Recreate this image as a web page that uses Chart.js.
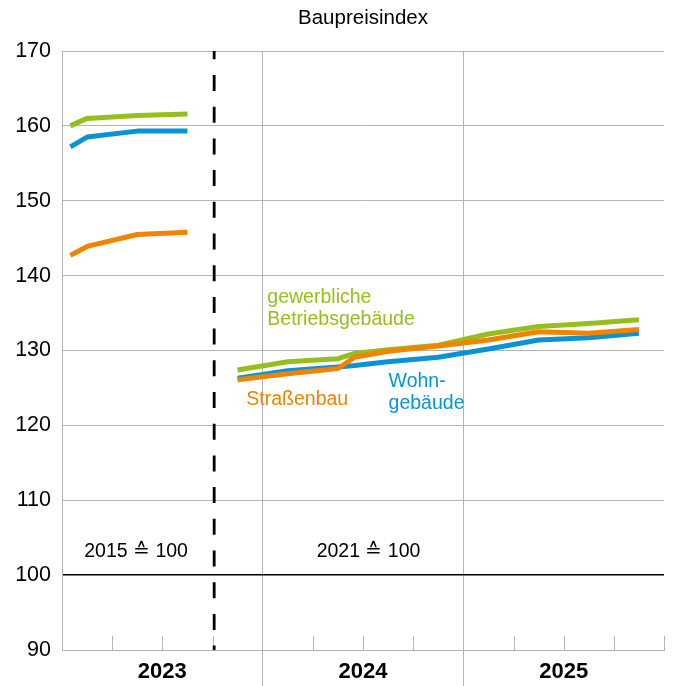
<!DOCTYPE html>
<html>
<head>
<meta charset="utf-8">
<script src="https://cdn.jsdelivr.net/npm/chart.js@4"></script>
<style>
  body { margin: 0; background: #fff; }
  #wrap { width: 673px; height: 686px; }
</style>
</head>
<body>
<div id="wrap"><canvas id="chart"></canvas></div>
<script>
// months counted from Jan 2023 (0) to Dec 2025 (36)
const years = ['2023', '2024', '2025'];
const yTicks = [90, 100, 110, 120, 130, 140, 150, 160, 170];

// 2015 = 100
const months2015 = [0.5, 1.5, 4.5, 7.5];
const gewerbe2015 = [160.0, 161.0, 161.4, 161.6];
const wohn2015 = [157.2, 158.5, 159.3, 159.3];
const strasse2015 = [142.7, 143.9, 145.5, 145.8];

// 2021 = 100
const months2021 = [10.5, 13.5, 16.5, 17.5, 19.5, 22.5, 25.5, 28.5, 31.5, 34.5];
const gewerbe2021 = [127.4, 128.5, 128.9, 129.6, 130.1, 130.7, 132.2, 133.2, 133.6, 134.1];
const wohn2021 = [126.3, 127.3, 127.8, 128.0, 128.5, 129.1, 130.2, 131.4, 131.7, 132.3];
const strasse2021 = [126.1, 126.9, 127.6, 129.1, 129.9, 130.6, 131.4, 132.5, 132.3, 132.8];

// Basiswechsel
const baseChange = 9.1;

const GREEN = '#96bf1d', BLUE = '#0a93d4', ORANGE = '#f08300';
const GRID = '#b4b4b4';
const FONT = '"Liberation Sans", Arial, sans-serif';

const pts = (xs, ys) => xs.map((x, i) => ({ x: x, y: ys[i] }));

function series(label, xs, ys, color, order) {
  return { label, data: pts(xs, ys), borderColor: color, borderWidth: 5, pointRadius: 0, tension: 0, order, borderCapStyle: 'butt', borderJoinStyle: 'round' };
}

const notes = [
  { lines: ['gewerbliche', 'Betriebsgebäude'], x: 12.28, y: 137.0, color: GREEN, align: 'left' },
  { lines: ['Straßenbau'], x: 11.02, y: 123.4, color: ORANGE, align: 'left' },
  { lines: ['Wohn-', 'gebäude'], x: 19.53, y: 125.9, color: BLUE, align: 'left' },
  { lines: ['2015 \u2259 100'], x: 4.43, y: 103.2, color: '#000', align: 'center' },
  { lines: ['2021 \u2259 100'], x: 18.33, y: 103.2, color: '#000', align: 'center' }
];

const extras = {
  id: 'extras',
  beforeDatasetsDraw(chart) {
    const { ctx, scales: { x, y } } = chart;
    ctx.save();
    ctx.strokeStyle = GRID;
    ctx.lineWidth = 1;
    const y0 = y.getPixelForValue(90);
    for (let m = 3; m <= 36; m += 3) {
      if (m % 12 === 0 && m < 36) continue;
      const px = Math.round(x.getPixelForValue(m)) + 0.5;
      ctx.beginPath();
      ctx.moveTo(px, y0);
      ctx.lineTo(px, y0 - 14);
      ctx.stroke();
    }
    ctx.restore();
  },
  afterDatasetsDraw(chart) {
    const { ctx, scales: { x, y } } = chart;
    ctx.save();
    ctx.font = '19.5px ' + FONT;
    ctx.textBaseline = 'middle';
    notes.forEach(n => {
      ctx.fillStyle = n.color;
      ctx.textAlign = n.align;
      n.lines.forEach((t, i) => ctx.fillText(t, x.getPixelForValue(n.x), y.getPixelForValue(n.y) + i * 22));
    });
    ctx.restore();
  }
};

new Chart(document.getElementById('chart'), {
  type: 'line',
  data: {
    datasets: [
      series('Straßenbau', months2015, strasse2015, ORANGE, 1),
      series('gewerbliche Betriebsgebäude', months2015, gewerbe2015, GREEN, 2),
      series('Wohngebäude', months2015, wohn2015, BLUE, 3),
      series('Straßenbau', months2021, strasse2021, ORANGE, 1),
      series('gewerbliche Betriebsgebäude', months2021, gewerbe2021, GREEN, 2),
      series('Wohngebäude', months2021, wohn2021, BLUE, 3),
      {
        label: 'Basiswechsel',
        data: [{ x: baseChange, y: 170 }, { x: baseChange, y: 90 }],
        borderColor: '#000', borderWidth: 2.8, borderDash: [16, 15.7], borderDashOffset: 7.7,
        pointRadius: 0, order: 0
      }
    ]
  },
  options: {
    responsive: true,
    maintainAspectRatio: false,
    animation: false,
    layout: { padding: { left: 0, right: 9, top: 0, bottom: 0 } },
    plugins: {
      legend: { display: false },
      tooltip: { enabled: false },
      title: {
        display: true,
        fullSize: false,
        text: 'Baupreisindex',
        color: '#000',
        font: { family: FONT, size: 20.5, weight: 'normal' },
        padding: { top: 6, bottom: 20.4 }
      }
    },
    scales: {
      x: {
        type: 'linear',
        min: 0,
        max: 36,
        afterBuildTicks: s => { s.ticks = [0, 6, 12, 18, 24, 30, 36].map(v => ({ value: v })); },
        afterFit: s => { s.height = 36; },
        ticks: {
          autoSkip: false,
          maxRotation: 0,
          padding: -27,
          color: '#000',
          font: { family: FONT, size: 22, weight: 'bold' },
          callback: v => (v % 12 === 6 ? years[(v - 6) / 12] : '')
        },
        grid: {
          color: c => (c.tick && (c.tick.value === 12 || c.tick.value === 24) ? GRID : 'rgba(0,0,0,0)'),
          tickLength: 36,
          lineWidth: 1
        },
        border: { display: true, color: GRID }
      },
      y: {
        min: 90,
        max: 170,
        afterBuildTicks: s => { s.ticks = yTicks.map(v => ({ value: v })); },
        afterFit: s => { s.width = 62; },
        ticks: {
          padding: 11,
          color: '#000',
          font: { family: FONT, size: 21.5 }
        },
        grid: {
          color: c => (c.tick && c.tick.value === 100 ? '#000' : GRID),
          lineWidth: c => (c.tick && c.tick.value === 100 ? 1.6 : 1),
          drawTicks: false
        },
        border: { display: true, color: GRID }
      }
    }
  },
  plugins: [extras]
});
</script>
</body>
</html>
